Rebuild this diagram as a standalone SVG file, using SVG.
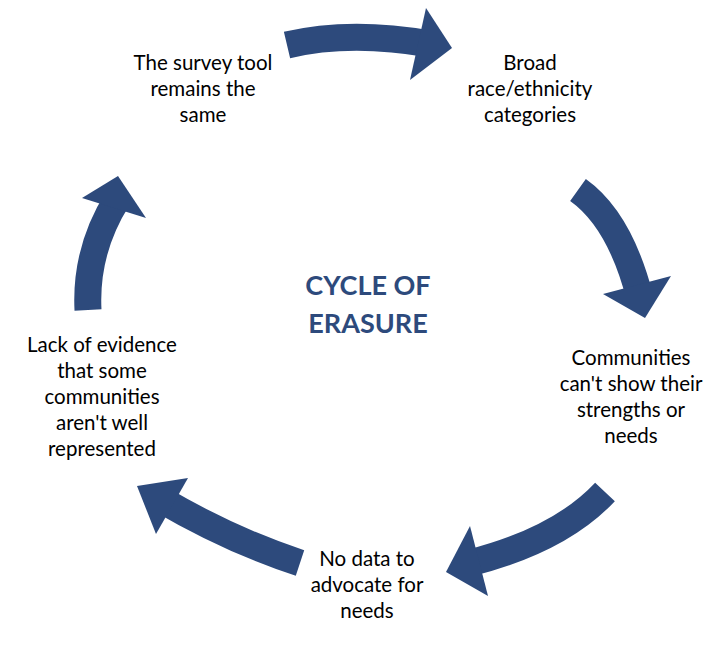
<svg xmlns="http://www.w3.org/2000/svg" width="726" height="648" viewBox="0 0 726 648">
<style>
.s{fill:none;stroke:#2D4A7C;stroke-width:27}
.h{fill:#2D4A7C}
text{font-family:Lato,"Liberation Sans",sans-serif;font-size:20.5px;fill:#000;text-anchor:middle}
.c{font-size:27px;font-weight:bold;fill:#2D4A7C}
</style>
<rect width="726" height="648" fill="#fff"/>
<g id="connectors">
<path class="s" d="M287,45 Q350,30 430,44"/><polygon class="h" points="410,80 426,8 452,48"/>
<path class="s" d="M578,190 Q620,220 640,298"/><polygon class="h" points="671,276 603,294 645,318"/>
<path class="s" d="M605,492 Q560,540 470,563"/><polygon class="h" points="488,596 470,526 446,572"/>
<path class="s" d="M300,563 Q230,540 160,499"/><polygon class="h" points="188,478 156,534 137,486"/>
<path class="s" d="M88,310 Q85,250 118,198"/><polygon class="h" points="146,218 82,198 118,176"/>
</g>
<g id="n1"><text x="203" y="70">The survey tool</text><text x="203" y="96">remains the</text><text x="203" y="122">same</text></g>
<g id="n2"><text x="530" y="70">Broad</text><text x="530" y="96">race/ethnicity</text><text x="530" y="122">categories</text></g>
<g id="n3"><text x="631" y="365">Communities</text><text x="631" y="391">can't show their</text><text x="631" y="417">strengths or</text><text x="631" y="443">needs</text></g>
<g id="n4"><text x="367" y="566">No data to</text><text x="367" y="592">advocate for</text><text x="367" y="618">needs</text></g>
<g id="n5"><text x="102" y="352">Lack of evidence</text><text x="102" y="378">that some</text><text x="102" y="404">communities</text><text x="102" y="430">aren't well</text><text x="102" y="456">represented</text></g>
<g id="center"><text class="c" x="368" y="295">CYCLE OF</text><text class="c" x="368" y="333">ERASURE</text></g>
</svg>
